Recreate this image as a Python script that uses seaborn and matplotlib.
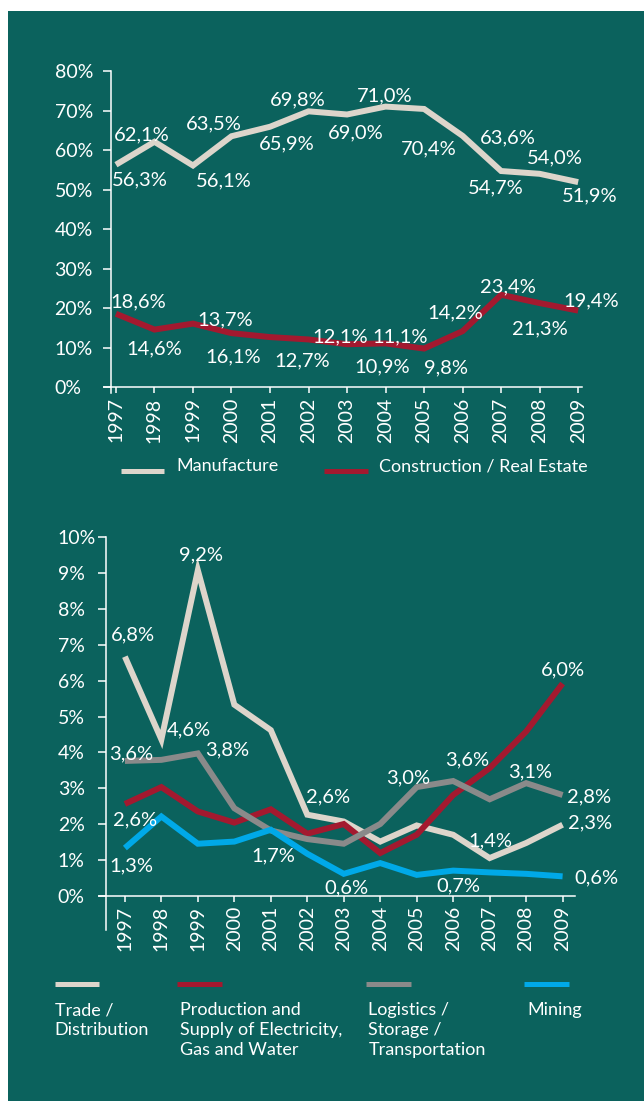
import matplotlib
matplotlib.use("Agg")
import matplotlib.pyplot as plt
import seaborn as sns
import pandas as pd
from matplotlib.lines import Line2D
from matplotlib.patches import Rectangle

# ---------------- data ----------------
years = list(range(1997, 2010))

manufacture = [56.3, 62.1, 56.1, 63.5, 65.9, 69.8, 69.0, 71.0, 70.4, 63.6, 54.7, 54.0, 51.9]
construction = [18.6, 14.6, 16.1, 13.7, 12.7, 12.1, 10.9, 11.1, 9.8, 14.2, 23.4, 21.3, 19.4]

trade = [6.67, 4.36, 9.08, 5.33, 4.62, 2.26, 2.07, 1.51, 1.96, 1.70, 1.05, 1.47, 1.98]
production = [2.56, 3.03, 2.35, 2.04, 2.41, 1.73, 2.00, 1.19, 1.70, 2.81, 3.56, 4.58, 5.92]
logistics = [3.76, 3.79, 3.97, 2.44, 1.82, 1.58, 1.45, 2.00, 3.03, 3.20, 2.69, 3.14, 2.81]
mining = [1.33, 2.21, 1.45, 1.51, 1.84, 1.17, 0.61, 0.91, 0.58, 0.70, 0.65, 0.61, 0.54]

# data-label texts of the lower chart (index of year -> text)
trade_labels = {0: "6,8%", 1: "4,6%", 2: "9,2%", 5: "2,6%", 10: "1,4%", 12: "2,3%"}
production_labels = {0: "2,6%", 10: "3,6%", 12: "6,0%"}
logistics_labels = {0: "3,6%", 2: "3,8%", 8: "3,0%", 11: "3,1%", 12: "2,8%"}
mining_labels = {0: "1,3%", 4: "1,7%", 6: "0,6%", 9: "0,7%", 12: "0,6%"}

top_series = ["Manufacture", "Construction / Real Estate"]
bottom_series = ["Trade /\nDistribution",
                 "Production and\nSupply of Electricity,\nGas and Water",
                 "Logistics /\nStorage /\nTransportation",
                 "Mining"]

top_yticks = [0, 10, 20, 30, 40, 50, 60, 70, 80]
bottom_yticks = [0, 1, 2, 3, 4, 5, 6, 7, 8, 9, 10]

# ---------------- styles ----------------
BG = "#0b625d"
C_BEIGE = "#ddd5cb"
C_RED = "#a3192f"
C_GRAY = "#8a8a8a"
C_BLUE = "#00a9e8"
TXT = "#ffffff"
FONT = ["Lato", "DejaVu Sans"]
LW = 4.3
TICK_FS = 14
LABEL_FS = 14.5
LEGEND_FS = 13

# label offsets in pixels (dx, dy up)
man_off = [(24, -14), (-13, 8), (31, -14), (-18, 14), (17, -16), (-11, 13), (9, -17),
           (-1, 12), (5, -38), (45, -1), (-5, -15), (15, 17), (12, -12)]
con_off = [(22, 13), (0, -18), (40, -32), (-6, 15), (32, -22), (32, 4), (35, -21),
           (15, 8), (22, -18), (-7, 20), (7, 9), (0, -24), (13, 11)]
trade_off = {0: (8, 23), 1: (27, 11), 2: (3, 17), 5: (21, 19), 10: (1, 19), 12: (27, 3)}
prod_off = {0: (10, -14), 10: (-22, 10), 12: (0, 15)}
logi_off = {0: (6, 9), 2: (29, 5), 8: (-9, 11), 11: (4, 13), 12: (26, 0)}
mine_off = {0: (6, -16), 4: (2, -25), 6: (3, -13), 9: (5, -14), 12: (34, 0)}

sns.set_theme(style="ticks")
plt.rcParams["font.family"] = FONT
plt.rcParams["lines.solid_joinstyle"] = "miter"
plt.rcParams["lines.solid_capstyle"] = "butt"

W, H = 644, 1101
fig = plt.figure(figsize=(W / 100, H / 100), dpi=100, facecolor="white")
fig.patches.append(Rectangle((8 / W, 0), 1 - 8 / W, 1 - 11 / H, transform=fig.transFigure,
                             facecolor=BG, edgecolor="none", zorder=-10))


def axes_px(left, top, right, bottom):
    return fig.add_axes([left / W, 1 - bottom / H, (right - left) / W, (bottom - top) / H])


def style_axes(ax, xlim, ylim, yticks, spine_x, left_ext, ypad):
    ax.set_facecolor("none")
    ax.set_xlim(*xlim)
    ax.set_ylim(*ylim)
    for s in ["top", "right"]:
        ax.spines[s].set_visible(False)
    for s in ["left", "bottom"]:
        ax.spines[s].set_color(TXT)
        ax.spines[s].set_linewidth(1.1)
    ax.spines["left"].set_position(("data", spine_x))
    ax.spines["left"].set_bounds(ylim[0] - left_ext, ylim[1])
    ax.set_xticks(years)
    ax.set_xticklabels([str(y) for y in years], rotation=90, va="top", ha="center")
    ax.set_yticks(yticks)
    ax.set_yticklabels([f"{t}%" for t in yticks], ha="left")
    ax.tick_params(axis="x", colors=TXT, length=4.3, width=1.1, pad=3.0, labelsize=TICK_FS)
    ax.tick_params(axis="y", colors=TXT, length=5.6, width=1.1, pad=ypad, labelsize=TICK_FS)
    ax.set_xlabel("")
    ax.set_ylabel("")
    ax.grid(False)


def draw_lines(ax, names, series, colors):
    df = pd.DataFrame({
        "year": years * len(series),
        "value": [v for s in series for v in s],
        "series": [n for n, s in zip(names, series) for _ in s],
    })
    sns.lineplot(data=df, x="year", y="value", hue="series", hue_order=names,
                 palette=dict(zip(names, colors)), linewidth=LW, legend=False,
                 sort=False, ax=ax)


def label(ax, x, y, text, off):
    ax.annotate(text, (x, y), xytext=off, textcoords="offset pixels",
                ha="center", va="center_baseline", color=TXT, fontsize=LABEL_FS)


# ---------------- top chart ----------------
ax1 = axes_px(104, 71, 582, 387.3)
draw_lines(ax1, top_series, [manufacture, construction], [C_BEIGE, C_RED])
style_axes(ax1, (1996.69, 2009.1), (0, 80), top_yticks, 1996.87, 1.5, 35)
for i, y in enumerate(years):
    label(ax1, y, manufacture[i], f"{manufacture[i]:.1f}%".replace(".", ","), man_off[i])
    label(ax1, y, construction[i], f"{construction[i]:.1f}%".replace(".", ","), con_off[i])

# ---------------- bottom chart ----------------
ax2 = axes_px(99, 537.3, 575, 895.7)
draw_lines(ax2, bottom_series, [trade, production, logistics, mining],
           [C_BEIGE, C_RED, C_GRAY, C_BLUE])
style_axes(ax2, (1996.29, 2009.34), (0, 10), bottom_yticks, 1996.47, 0.96, 28.9)
for vals, labs, offs in [(trade, trade_labels, trade_off),
                         (production, production_labels, prod_off),
                         (logistics, logistics_labels, logi_off),
                         (mining, mining_labels, mine_off)]:
    for i, t in labs.items():
        label(ax2, years[i], vals[i], t, offs[i])


# ---------------- legends ----------------
def legend_line(x0, x1, y, color):
    fig.add_artist(Line2D([x0 / W, x1 / W], [1 - y / H, 1 - y / H], transform=fig.transFigure,
                          color=color, linewidth=3.6, solid_capstyle="butt"))


legend_line(121, 164, 471.5, C_BEIGE)
fig.text(176.7 / W, 1 - 471 / H, top_series[0], color=TXT, fontsize=LEGEND_FS,
         va="baseline", ha="left")
legend_line(324, 367.5, 471.5, C_RED)
fig.text(378.6 / W, 1 - 471 / H, top_series[1], color=TXT, fontsize=LEGEND_FS,
         va="baseline", ha="left")

for (x0, x1, tx), name, col in zip([(55.4, 99.4, 54.6), (177.4, 222.2, 180),
                                    (366.3, 410.7, 368.4), (524.4, 568.8, 527)],
                                   bottom_series, [C_BEIGE, C_RED, C_GRAY, C_BLUE]):
    legend_line(x0, x1, 984, col)
    fig.text(tx / W, 1 - 1002 / H, name, color=TXT, fontsize=LEGEND_FS, va="top", ha="left",
             linespacing=1.3)

fig.savefig("out.png", dpi=100, facecolor="white")
